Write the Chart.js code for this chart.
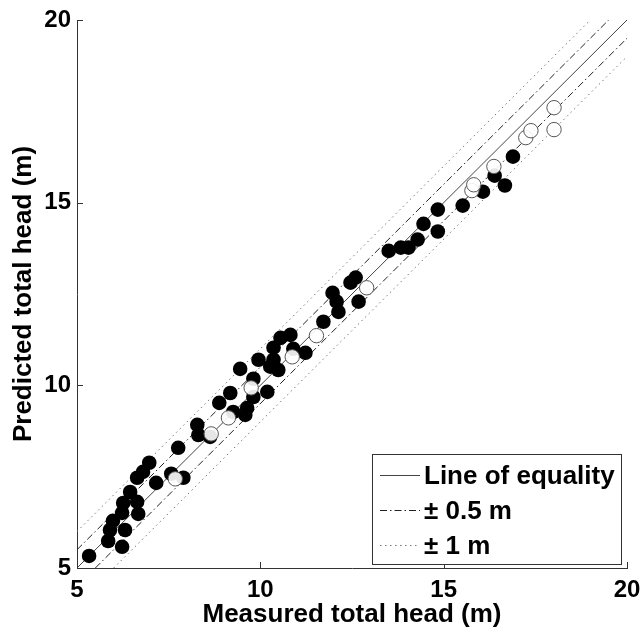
<!DOCTYPE html>
<html>
<head>
<meta charset="utf-8">
<script src="https://cdn.jsdelivr.net/npm/chart.js@4.4.1/dist/chart.umd.min.js"></script>
<style>
  html, body { margin: 0; padding: 0; background: #fff; }
  #headChart { display: block; }
</style>
</head>
<body>
<canvas id="headChart" width="641" height="630"></canvas>
<script>
// measured vs predicted total head (m)
const measuredFilled = [5.33, 6.23, 5.85, 5.90, 5.98, 6.31, 6.23, 6.26, 6.45, 6.64,
  6.67, 6.64, 6.80, 6.97, 7.16, 7.57, 7.90, 7.76, 8.28, 8.31,
  8.63, 8.88, 9.18, 9.26, 9.59, 9.64, 9.81, 9.81, 9.45, 9.95,
  10.19, 10.27, 10.49, 10.36, 10.36, 10.55, 10.82, 10.90, 11.23, 11.72,
  11.97, 12.08, 12.13, 12.46, 12.60, 12.68, 13.50, 13.83, 14.04, 14.29,
  14.45, 14.84, 14.84, 15.52, 16.07, 16.39, 16.67, 16.89];
const predictedFilled = [5.33, 5.58, 5.74, 6.04, 6.29, 6.04, 6.51, 6.78, 7.08, 6.81,
  6.48, 7.47, 7.63, 7.88, 7.33, 7.58, 7.47, 8.29, 8.92, 8.64,
  8.59, 9.52, 9.79, 9.27, 9.19, 9.38, 9.68, 10.18, 10.45, 10.70,
  9.82, 10.51, 10.42, 11.03, 10.70, 11.30, 11.38, 11.00, 10.89, 11.74,
  12.53, 12.29, 12.01, 12.81, 12.95, 12.29, 13.68, 13.77, 13.77, 13.99,
  14.42, 14.21, 14.81, 14.92, 15.30, 15.74, 15.47, 16.26];

const measuredOpen = [7.68, 8.66, 9.13, 9.75, 10.87, 11.53, 12.90, 15.77, 15.82, 16.37, 17.24, 17.38, 18.01, 18.01];
const predictedOpen = [7.44, 8.67, 9.11, 9.93, 10.78, 11.36, 12.67, 15.33, 15.49, 15.99, 16.78, 16.97, 17.60, 17.00];

const tickValues = [5, 10, 15, 20];
const axisMin = 5;
const axisMax = 20;
const bandOffsets = [0.5, 1];   // +/- tolerance lines (m)

const FONT = "'Liberation Sans', Arial, sans-serif";
const AXIS_COLOR = '#333';

function toPoints(xs, ys) {
  return xs.map((x, i) => ({ x: x, y: ys[i] }));
}

// straight line y = x + off, cut to the axis square
function offsetLine(off) {
  const x0 = off >= 0 ? axisMin : axisMin - off;
  const x1 = off >= 0 ? axisMax - off : axisMax;
  return [{ x: x0, y: x0 + off }, { x: x1, y: x1 + off }];
}

function lineSet(data, color, dash) {
  return {
    type: 'line',
    data: data,
    borderColor: color,
    borderWidth: 1,
    borderDash: dash,
    pointRadius: 0,
    fill: false,
    order: 3
  };
}

const lineStyles = {
  equality: { color: '#444', dash: [] },
  half: { color: '#222', dash: [7, 3, 1.5, 3] },
  one: { color: '#777', dash: [1.5, 3.5] }
};

const datasets = [
  {
    label: 'open',
    data: toPoints(measuredOpen, predictedOpen),
    pointRadius: 7.2,
    pointBackgroundColor: 'rgba(255,255,255,0.9)',
    pointBorderColor: '#555',
    pointBorderWidth: 1,
    showLine: false,
    order: 1
  },
  {
    label: 'filled',
    data: toPoints(measuredFilled, predictedFilled),
    pointRadius: 7.3,
    pointBackgroundColor: '#000',
    pointBorderColor: '#000',
    pointBorderWidth: 0,
    showLine: false,
    order: 2
  },
  lineSet(offsetLine(0), lineStyles.equality.color, lineStyles.equality.dash)
];
bandOffsets.forEach((d, i) => {
  const st = i === 0 ? lineStyles.half : lineStyles.one;
  datasets.push(lineSet(offsetLine(d), st.color, st.dash));
  datasets.push(lineSet(offsetLine(-d), st.color, st.dash));
});

// inward tick marks on both axes
const tickMarks = {
  id: 'tickMarks',
  afterDraw(chart) {
    const { ctx, chartArea: a, scales: { x, y } } = chart;
    ctx.save();
    ctx.strokeStyle = AXIS_COLOR;
    ctx.lineWidth = 1;
    ctx.beginPath();
    tickValues.forEach(v => {
      const px = Math.round(x.getPixelForValue(v)) + 0.5;
      ctx.moveTo(px, a.bottom);
      ctx.lineTo(px, a.bottom - 6);
      const py = Math.round(y.getPixelForValue(v)) + 0.5;
      ctx.moveTo(a.left, py);
      ctx.lineTo(a.left + 6, py);
    });
    ctx.stroke();
    ctx.restore();
  }
};

// boxed legend in the lower right corner
const lineLegend = {
  id: 'lineLegend',
  afterDraw(chart) {
    const { ctx, chartArea: a } = chart;
    const left = a.right - 255, right = a.right - 6;
    const top = a.bottom - 114, bottom = a.bottom - 4;
    ctx.save();
    ctx.fillStyle = '#fff';
    ctx.fillRect(left, top, right - left, bottom - top);
    ctx.strokeStyle = AXIS_COLOR;
    ctx.lineWidth = 1;
    ctx.strokeRect(Math.round(left) + 0.5, Math.round(top) + 0.5, right - left, bottom - top);

    const rows = [
      { text: 'Line of equality', st: lineStyles.equality },
      { text: '\u00b1 0.5 m', st: lineStyles.half },
      { text: '\u00b1 1 m', st: lineStyles.one }
    ];
    ctx.font = 'bold 26px ' + FONT;
    ctx.textBaseline = 'middle';
    ctx.textAlign = 'left';
    rows.forEach((r, i) => {
      const yy = Math.round(top + 21 + i * 35) + 0.5;
      ctx.beginPath();
      ctx.strokeStyle = r.st.color;
      ctx.setLineDash(r.st.dash);
      ctx.moveTo(left + 8, yy);
      ctx.lineTo(left + 48, yy);
      ctx.stroke();
      ctx.setLineDash([]);
      ctx.fillStyle = '#000';
      ctx.fillText(r.text, left + 52, yy + 1);
    });
    ctx.restore();
  }
};

function axisOptions(titleText, isX) {
  return {
    type: 'linear',
    min: axisMin,
    max: axisMax,
    afterBuildTicks: scale => {
      scale.ticks = tickValues.map(v => ({ value: v }));
    },
    afterFit: scale => {
      // fixed axis band, no extra room for the end labels
      if (isX) {
        scale.height = 62;
        scale.paddingLeft = 0;
        scale.paddingRight = 0;
      } else {
        scale.width = 77;
        scale.paddingTop = 0;
        scale.paddingBottom = 0;
      }
    },
    grid: { display: true, drawOnChartArea: false, drawTicks: false },
    border: { display: true, color: AXIS_COLOR, width: 1 },
    ticks: {
      color: '#000',
      padding: isX ? 8 : 6,
      maxRotation: 0,
      font: { family: FONT, size: 24, weight: 'bold' }
    },
    title: {
      display: true,
      text: titleText,
      color: '#000',
      padding: isX ? { top: 0, bottom: 0 } : { top: 8, bottom: 0 },
      font: { family: FONT, size: 26, weight: 'bold' }
    }
  };
}

new Chart(document.getElementById('headChart'), {
  type: 'scatter',
  data: { datasets: datasets },
  options: {
    responsive: false,
    animation: false,
    layout: { autoPadding: false, padding: { top: 20, right: 14, left: 0, bottom: 0 } },
    plugins: {
      legend: { display: false },
      tooltip: { enabled: false }
    },
    scales: {
      x: axisOptions('Measured total head (m)', true),
      y: axisOptions('Predicted total head (m)', false)
    }
  },
  plugins: [tickMarks, lineLegend]
});
</script>
</body>
</html>
